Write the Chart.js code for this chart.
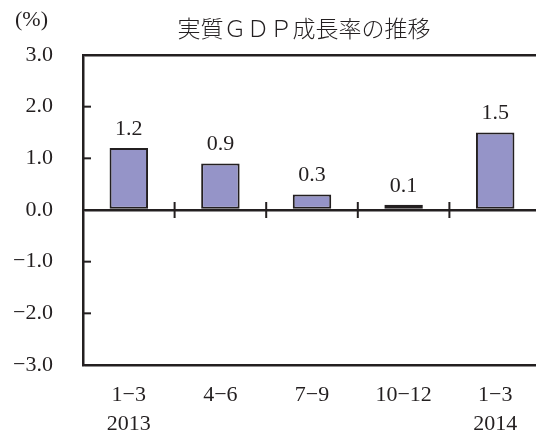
<!DOCTYPE html>
<html>
<head>
<meta charset="utf-8">
<script src="https://cdn.jsdelivr.net/npm/chart.js@4"></script>
<style>
  html, body { margin: 0; padding: 0; background: #fff; overflow: hidden; }
  #wrap { width: 545px; height: 432px; }
</style>
</head>
<body>
<div id="wrap"><canvas id="gdp"></canvas></div>
<script>
// 実質GDP成長率（前期比、%）
const quarters = [['1\u22123', '2013'], ['4\u22126'], ['7\u22129'], ['10\u221212'], ['1\u22123', '2014']];
const growth = [1.2, 0.9, 0.3, 0.1, 1.5];
const yTicks = [-3, -2, -1, 0, 1, 2, 3];

const TITLE = '実質ＧＤＰ成長率の推移';
const UNIT = '(%)';
const INK = '#231f20';
const SERIF = '"Liberation Serif", "DejaVu Serif", serif';
const JP = '"Noto Sans CJK JP", sans-serif';

function fmtNum(v) {
  return (v < 0 ? '\u2212' : '') + Math.abs(v).toFixed(1);
}

// 軸の内側の目盛り、ラベル、タイトル
const decor = {
  id: 'decor',
  afterDatasetsDraw(chart) {
    const { ctx, chartArea: a, scales: { x, y } } = chart;
    ctx.save();
    ctx.strokeStyle = INK;
    ctx.lineWidth = 2;
    // y目盛り（内側）
    yTicks.forEach(v => {
      const py = y.getPixelForValue(v);
      ctx.beginPath(); ctx.moveTo(a.left, py); ctx.lineTo(a.left + 8, py); ctx.stroke();
    });
    // カテゴリ境界の目盛り（ゼロ線上）
    const y0 = y.getPixelForValue(0);
    for (let i = 1; i < growth.length; i++) {
      const px = (x.getPixelForValue(i - 1) + x.getPixelForValue(i)) / 2;
      ctx.beginPath(); ctx.moveTo(px, y0 - 8); ctx.lineTo(px, y0 + 8); ctx.stroke();
    }
    // 値ラベル
    ctx.fillStyle = INK;
    ctx.font = '22px ' + SERIF;
    ctx.textAlign = 'center';
    ctx.textBaseline = 'middle';
    chart.getDatasetMeta(0).data.forEach((bar, i) => {
      ctx.fillText(fmtNum(growth[i]), bar.x, bar.y - 19);
    });
    // タイトル
    ctx.font = '300 23px ' + JP;
    ctx.fillText(TITLE, 304, 28);
    ctx.font = '22px ' + SERIF;
    ctx.textAlign = 'left';
    ctx.fillText(UNIT, 15, 20);
    ctx.restore();
  }
};

new Chart(document.getElementById('gdp'), {
  type: 'bar',
  data: {
    labels: quarters,
    datasets: [{
      data: growth,
      backgroundColor: '#9594c8',
      borderColor: INK,
      borderWidth: 2,
      borderSkipped: false,
      barPercentage: 0.42,
      categoryPercentage: 1,
    }],
  },
  options: {
    responsive: true, maintainAspectRatio: false,
    animation: false,
    layout: { padding: { left: 0, top: 55, right: 4, bottom: 0 } },
    plugins: { legend: { display: false }, title: { display: false }, tooltip: { enabled: false } },
    scales: {
      x: {
        grid: { display: false, drawTicks: false },
        border: { display: false },
        ticks: { color: INK, font: { family: SERIF, size: 22, lineHeight: 1.3 }, padding: 16, maxRotation: 0 },
        afterFit: s => { s.height = 67; },
      },
      y: {
        min: -3, max: 3,
        afterBuildTicks: s => { s.ticks = yTicks.map(v => ({ value: v })); },
        grid: {
          drawTicks: false,
          lineWidth: 2.5,
          color: c => (c.tick && [0, 3, -3].includes(c.tick.value)) ? INK : 'rgba(0,0,0,0)',
        },
        border: { display: true, color: INK, width: 2.5 },
        ticks: { color: INK, font: { family: SERIF, size: 22 }, padding: 30, callback: v => fmtNum(v) },
        afterFit: s => { s.width = 83; },
      },
    },
  },
  plugins: [decor],
});
</script>
</body>
</html>
